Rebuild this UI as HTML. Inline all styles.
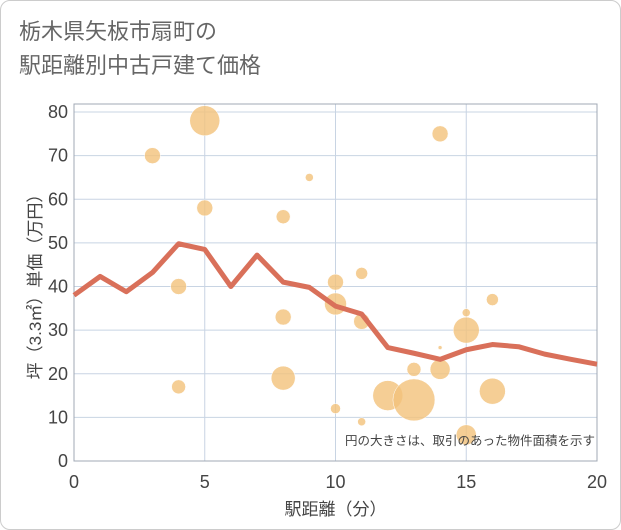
<!DOCTYPE html>
<html><head><meta charset="utf-8"><style>
body{margin:0;background:#fff;}
.wrap{position:relative;width:619px;height:528px;border:1px solid #ccc;border-radius:10px;overflow:hidden;background:#fff;font-family:"Liberation Sans","Noto Sans CJK JP",sans-serif;}
.title{position:absolute;left:18px;top:14px;font-size:22px;line-height:34px;color:#666;}
svg{position:absolute;left:0;top:0;}
</style></head><body>
<div class="wrap">
<div class="title">栃木県矢板市扇町の<br>駅距離別中古戸建て価格</div>
<svg id="c" width="621" height="530"></svg>
</div>
<script>
const xTicks=[0,5,10,15,20];
const yTicks=[0,10,20,30,40,50,60,70,80];
const bubbleX=[3,5,4,4,5,8,8,8,9,10,10,10,11,11,11,12,13,13,14,14,14,15,15,15,16,16];
const bubbleY=[70,78,40,17,58,56,33,19,65,41,36,12,43,32,9,15,14,21,75,21,26,34,30,6,37,16];
const bubbleR=[8,15,8,7,8,7,8,12,4,8,11,5,6,8,4,15,21,7,8,10,2,4,13,10,6,13];
const lineX=[0,1,2,3,4,5,6,7,8,9,10,11,12,13,14,15,16,17,18,19,20];
const lineY=[38,42.3,38.8,43.2,49.8,48.5,40,47.2,41,39.8,35.5,33.7,26,24.7,23.3,25.5,26.7,26.2,24.5,23.3,22.2];
const L=73,R=596,T=103,B=460;
const sx=v=>L+(R-L)*v/20, sy=v=>B-(B-111)*v/80;
const svg=document.getElementById('c');const NS='http://www.w3.org/2000/svg';
function mk(t,a,p){const e=document.createElementNS(NS,t);for(const k in a)e.setAttribute(k,a[k]);(p||svg).appendChild(e);return e;}
yTicks.forEach(v=>{const g=mk('line',{x1:L,x2:R,y1:sy(v),y2:sy(v),stroke:'#c8d4e3','stroke-width':1});


const t=mk('text',{x:L-6,y:sy(v)+6,'text-anchor':'end','font-size':18,fill:'#444'});t.textContent=v;

});
xTicks.forEach(v=>{const g=mk('line',{x1:sx(v),x2:sx(v),y1:T,y2:B,stroke:'#c8d4e3','stroke-width':1});


const t=mk('text',{x:sx(v),y:487,'text-anchor':'middle','font-size':18,fill:'#444'});t.textContent=v;

});
const fr=mk('rect',{x:L,y:T,width:R-L,height:B-T,fill:'none',stroke:'#a0a8b4','stroke-width':1});


bubbleX.forEach((x,i)=>{const c=mk('circle',{cx:sx(x),cy:sy(bubbleY[i]),r:bubbleR[i],fill:'#f3c27a','fill-opacity':0.8,stroke:'#fff','stroke-width':0.5});

});
const p=mk('polyline',{points:lineX.map((x,i)=>sx(x)+','+sy(lineY[i])).join(' '),fill:'none',stroke:'#d9705a','stroke-width':5,'stroke-linejoin':'round'});


const note=mk('text',{x:594,y:444,'text-anchor':'end','font-size':12.5,fill:'#444'});note.textContent='円の大きさは、取引のあった物件面積を示す';


const xt=mk('text',{x:sx(10),y:514,'text-anchor':'middle','font-size':17,fill:'#444'});xt.textContent='駅距離（分）';


const yt=mk('text',{x:0,y:0,'text-anchor':'middle','font-size':17,fill:'#444',transform:'translate(40,'+((T+B)/2)+') rotate(-90)'});yt.textContent='坪（3.3㎡）単価（万円）';


</script>
</body></html>
